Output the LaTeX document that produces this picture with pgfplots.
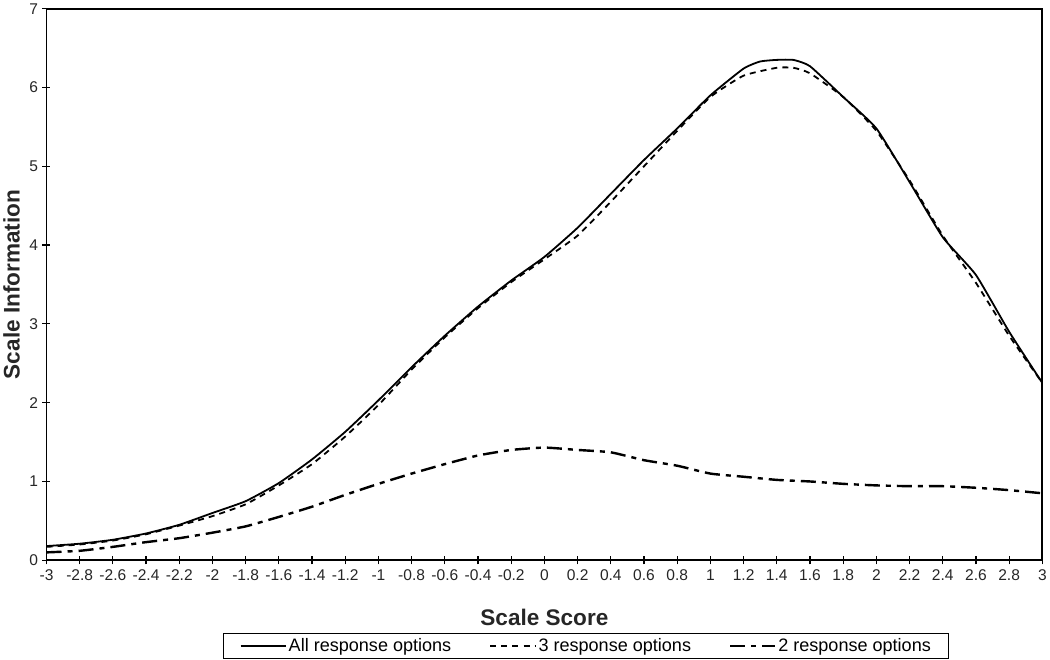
\documentclass[border=0pt]{standalone}
\usepackage{fontspec}
\setmainfont{Liberation Sans}
\usepackage{pgfplots}
\pgfplotsset{compat=1.18}
\begin{document}
\begin{tikzpicture}
\begin{axis}[
  width=993pt, height=550pt, scale only axis,
  xmin=-3, xmax=3, ymin=0, ymax=7,
  xtick={-3,-2.8,-2.6,-2.4,-2.2,-2,-1.8,-1.6,-1.4,-1.2,-1,-0.8,-0.6,-0.4,-0.2,0,0.2,0.4,0.6,0.8,1,1.2,1.4,1.6,1.8,2,2.2,2.4,2.6,2.8,3},
  ytick={0,1,2,3,4,5,6,7},
  xtick pos=bottom, ytick pos=left,
  tick align=center, major tick length=8pt,
  tick style={black, line width=1.2pt},
  axis line style={black, line width=1.8pt},
  /pgf/number format/assume math mode=true,
  ticklabel style={font=\fontsize{15.5}{17}\selectfont, text=black!85},
  xticklabel style={yshift=-2pt},
  yticklabel style={xshift=-1pt},
  xlabel={Scale Score}, ylabel={Scale Information},
  xlabel style={font=\fontsize{22.5}{25}\selectfont\bfseries, text=black!85, at={(axis description cs:0.5,-0.1036)}, anchor=center},
  ylabel style={font=\fontsize{22.5}{25}\selectfont\bfseries, text=black!85, at={(axis description cs:-0.035,0.5)}, anchor=center},
  legend columns=3,
  legend style={at={(axis description cs:0.542,-0.131)}, anchor=north, draw=black, line width=1pt,
    font=\fontsize{18}{20}\selectfont, inner xsep=16pt, inner ysep=3.5pt,
    /tikz/every even column/.append style={column sep=36pt}},
  legend image code/.code={\draw[#1, line width=2pt] (0pt,0pt) -- (45pt,0pt);},
]
\addplot[black, line width=1.8pt, smooth, tension=0.3] coordinates {
(-3,0.18) (-2.8,0.21) (-2.6,0.26) (-2.4,0.34) (-2.2,0.45) (-2,0.6) (-1.8,0.75) (-1.6,0.98) (-1.4,1.28) (-1.2,1.63) (-1,2.03) (-0.8,2.45) (-0.6,2.85) (-0.4,3.22) (-0.2,3.55) (0,3.85) (0.2,4.22) (0.4,4.65) (0.6,5.08) (0.8,5.48) (1,5.9) (1.2,6.24) (1.3,6.33) (1.4,6.35) (1.5,6.35) (1.6,6.27) (1.8,5.88) (2,5.48) (2.2,4.8) (2.4,4.1) (2.6,3.62) (2.8,2.9) (3,2.25)};
\addlegendentry{All response options}
\addplot[black, line width=1.8pt, dash pattern=on 6pt off 5pt, smooth, tension=0.3] coordinates {
(-3,0.17) (-2.8,0.2) (-2.6,0.25) (-2.4,0.33) (-2.2,0.44) (-2,0.56) (-1.8,0.71) (-1.6,0.95) (-1.4,1.22) (-1.2,1.57) (-1,1.97) (-0.8,2.42) (-0.6,2.83) (-0.4,3.2) (-0.2,3.53) (0,3.82) (0.2,4.12) (0.4,4.55) (0.6,5.0) (0.8,5.45) (1,5.88) (1.2,6.15) (1.4,6.25) (1.5,6.25) (1.6,6.18) (1.8,5.88) (2,5.45) (2.2,4.82) (2.4,4.12) (2.6,3.52) (2.8,2.85) (3,2.25)};
\addlegendentry{3 response options}
\addplot[black, line width=2.4pt, dash pattern=on 15pt off 6pt on 5pt off 6pt, smooth, tension=0.3] coordinates {
(-3,0.1) (-2.8,0.12) (-2.6,0.17) (-2.4,0.23) (-2.2,0.28) (-2,0.35) (-1.8,0.43) (-1.6,0.55) (-1.4,0.68) (-1.2,0.83) (-1,0.97) (-0.8,1.1) (-0.6,1.22) (-0.4,1.33) (-0.2,1.4) (0,1.43) (0.2,1.4) (0.4,1.37) (0.6,1.27) (0.8,1.2) (1,1.1) (1.2,1.06) (1.4,1.02) (1.6,1.0) (1.8,0.97) (2,0.95) (2.2,0.94) (2.4,0.94) (2.6,0.92) (2.8,0.89) (3,0.85)};
\addlegendentry{2 response options}
\end{axis}
\end{tikzpicture}
\end{document}
